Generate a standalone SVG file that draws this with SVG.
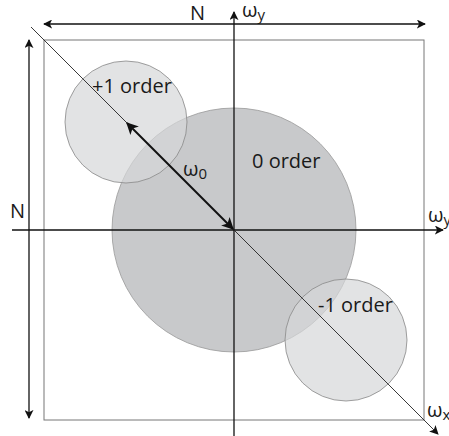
<svg xmlns="http://www.w3.org/2000/svg" width="449" height="436" viewBox="0 0 449 436">
<style>
text{font-family:"Open Sans","Liberation Sans",sans-serif;fill:#1a1a1a}
.lbl{font-size:20px}
.sub{font-size:15px}
.axis{stroke:#111;stroke-width:1.3;fill:none}
.thin{stroke:#222;stroke-width:0.9;fill:none}
</style>
<defs>
<marker id="ah" viewBox="0 0 10 10" refX="9" refY="5" markerWidth="9" markerHeight="9" markerUnits="userSpaceOnUse" orient="auto-start-reverse">
<path d="M0,0 L10,5 L0,10 L2.5,5 Z" fill="#111"/>
</marker>
<marker id="ah2" viewBox="0 0 10 10" refX="9" refY="5" markerWidth="12" markerHeight="12" markerUnits="userSpaceOnUse" orient="auto-start-reverse">
<path d="M0,0 L10,5 L0,10 L2.5,5 Z" fill="#111"/>
</marker>
</defs>
<rect x="44" y="40" width="380" height="380" fill="#fff" stroke="#777" stroke-width="1"/>
<g id="zero-order">
<circle cx="234" cy="230" r="122" fill="#c8c9cb" stroke="#999" stroke-width="0.8"/>
</g>
<g id="plus-one-order">
<circle cx="126" cy="122" r="61" fill="#d6d7d9" fill-opacity="0.7" stroke="#888" stroke-width="0.8"/>
</g>
<g id="minus-one-order">
<circle cx="346" cy="340" r="61" fill="#d6d7d9" fill-opacity="0.7" stroke="#888" stroke-width="0.8"/>
</g>
<g id="connectors">
<line class="axis" x1="44" y1="24" x2="425" y2="24" marker-start="url(#ah)" marker-end="url(#ah)"/>
<line class="axis" x1="29" y1="40" x2="29" y2="418" marker-start="url(#ah)" marker-end="url(#ah)"/>
<line class="axis" x1="234" y1="436" x2="234" y2="12" marker-end="url(#ah)"/>
<line class="axis" x1="12" y1="230" x2="443" y2="230" marker-end="url(#ah)"/>
<line class="thin" x1="31" y1="27" x2="438" y2="434" marker-end="url(#ah)"/>
<line x1="127" y1="123" x2="233" y2="229" stroke="#111" stroke-width="2" marker-start="url(#ah2)" marker-end="url(#ah2)"/>
</g>
<g id="labels">
<text class="lbl" x="190" y="20">N</text>
<text class="lbl" x="10" y="218">N</text>
<text class="lbl" x="242" y="17">ω<tspan class="sub" dy="3">y</tspan></text>
<text class="lbl" x="428" y="222">ω<tspan class="sub" dy="3">y</tspan></text>
<text class="lbl" x="427" y="417">ω<tspan class="sub" dy="3">x</tspan></text>
<text class="lbl" x="183" y="176">ω<tspan class="sub" dy="3">0</tspan></text>
<text class="lbl" x="92" y="93">+1 order</text>
<text class="lbl" x="252" y="168">0 order</text>
<text class="lbl" x="318" y="312">-1 order</text>
</g>
</svg>
